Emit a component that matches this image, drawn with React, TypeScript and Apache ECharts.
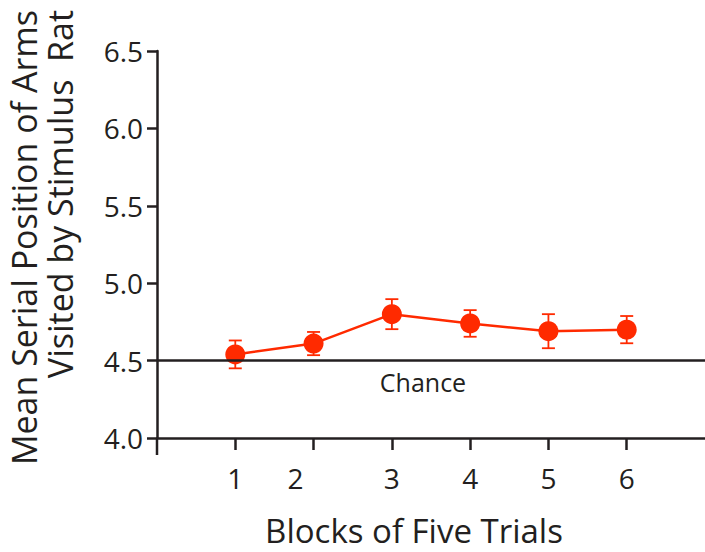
import React, { useEffect, useRef } from "react";
import * as echarts from "echarts";

const blocks = [1, 2, 3, 4, 5, 6];
const means = [4.54, 4.61, 4.8, 4.74, 4.69, 4.7];
const errors = [0.09, 0.075, 0.097, 0.086, 0.11, 0.088];
const yMin = 4.0;
const yMax = 6.5;
const yStep = 0.5;
const chanceLevel = 4.5;
const chanceLabel = "Chance";
const xTitle = "Blocks of Five Trials";
const yTitleLines = ["Mean Serial Position of Arms", "Visited by Stimulus  Rat"];

const FONT = "'Open Sans', 'Noto Sans', sans-serif";
const INK = "#231f20";
const RED = "#ff2a00";

export default function App() {
  const ref = useRef<HTMLDivElement>(null);
  useEffect(() => {
    if (!ref.current) return;
    const chart = echarts.init(ref.current, null, { renderer: "svg" });
    const lineData = blocks.map((b, i) => [b, means[i]]);
    const errData = blocks.map((b, i) => [b, means[i] - errors[i], means[i] + errors[i]]);
    chart.setOption({
      animation: false,
      backgroundColor: "#ffffff",
      grid: { left: 157, top: 51, right: -5, bottom: 114 },
      xAxis: {
        type: "value",
        min: 0,
        max: 7,
        interval: 1,
        splitLine: { show: false },
        axisLine: { show: true, lineStyle: { color: INK, width: 2.5 } },
        axisTick: {
          show: true,
          customValues: blocks,
          length: 12,
          lineStyle: { color: INK, width: 2.5 },
        },
        axisLabel: {
          customValues: blocks,
          margin: 26,
          fontSize: 28,
          fontFamily: FONT,
          color: INK,
          formatter: (v: number) => (v === 2 ? "{shift|2}" : String(v)),
          rich: {
            shift: { fontSize: 28, fontFamily: FONT, color: INK, padding: [0, 36, 0, 0] },
          },
        },
      },
      yAxis: {
        type: "value",
        min: yMin,
        max: yMax,
        interval: yStep,
        splitLine: { show: false },
        axisLine: { show: true, lineStyle: { color: INK, width: 2.5 } },
        axisTick: { show: true, length: 10, lineStyle: { color: INK, width: 2.5 } },
        axisLabel: {
          margin: 14,
          fontSize: 28,
          fontFamily: FONT,
          color: INK,
          formatter: (v: number) => v.toFixed(1),
        },
      },
      graphic: [
        {
          type: "line",
          shape: { x1: 157, y1: 438, x2: 157, y2: 455 },
          style: { stroke: INK, lineWidth: 2.5 },
        },
        {
          type: "text",
          x: 423,
          y: 382,
          style: {
            text: chanceLabel,
            fontSize: 25,
            fontFamily: FONT,
            fill: INK,
            align: "center",
            verticalAlign: "middle",
          },
        },
        {
          type: "text",
          x: 414,
          y: 530,
          style: {
            text: xTitle,
            fontSize: 33,
            lineHeight: 34,
            fontFamily: FONT,
            fill: INK,
            align: "center",
            verticalAlign: "middle",
          },
        },
        ...yTitleLines.map((t, i) => ({
          type: "text",
          x: 24 + i * 36,
          y: 10,
          rotation: Math.PI / 2,
          style: {
            text: t,
            fontSize: 34,
            lineHeight: 35,
            fontFamily: FONT,
            fill: INK,
            align: "right",
            verticalAlign: "middle",
          },
        })),
      ],
      series: [
        {
          type: "custom",
          z: 1,
          data: errData,
          renderItem: (params: any, api: any) => {
            const x = api.value(0);
            const lo = api.coord([x, api.value(1)]);
            const hi = api.coord([x, api.value(2)]);
            const w = 6.5;
            const st = { stroke: RED, lineWidth: 1.8 };
            return {
              type: "group",
              children: [
                { type: "line", shape: { x1: lo[0], y1: lo[1], x2: hi[0], y2: hi[1] }, style: st },
                { type: "line", shape: { x1: hi[0] - w, y1: hi[1], x2: hi[0] + w, y2: hi[1] }, style: st },
                { type: "line", shape: { x1: lo[0] - w, y1: lo[1], x2: lo[0] + w, y2: lo[1] }, style: st },
              ],
            };
          },
        },
        {
          type: "line",
          z: 2,
          data: lineData,
          symbol: "circle",
          symbolSize: 20,
          itemStyle: { color: RED },
          lineStyle: { color: RED, width: 2.5 },
          markLine: {
            silent: true,
            symbol: "none",
            label: { show: false },
            lineStyle: { color: INK, width: 2.5, type: "solid" },
            data: [{ yAxis: chanceLevel }],
          },
        },
      ],
    });
    return () => chart.dispose();
  }, []);
  return (
    <div
      ref={ref}
      style={{ position: "fixed", left: 0, top: 0, width: 705, height: 552 }}
    />
  );
}
